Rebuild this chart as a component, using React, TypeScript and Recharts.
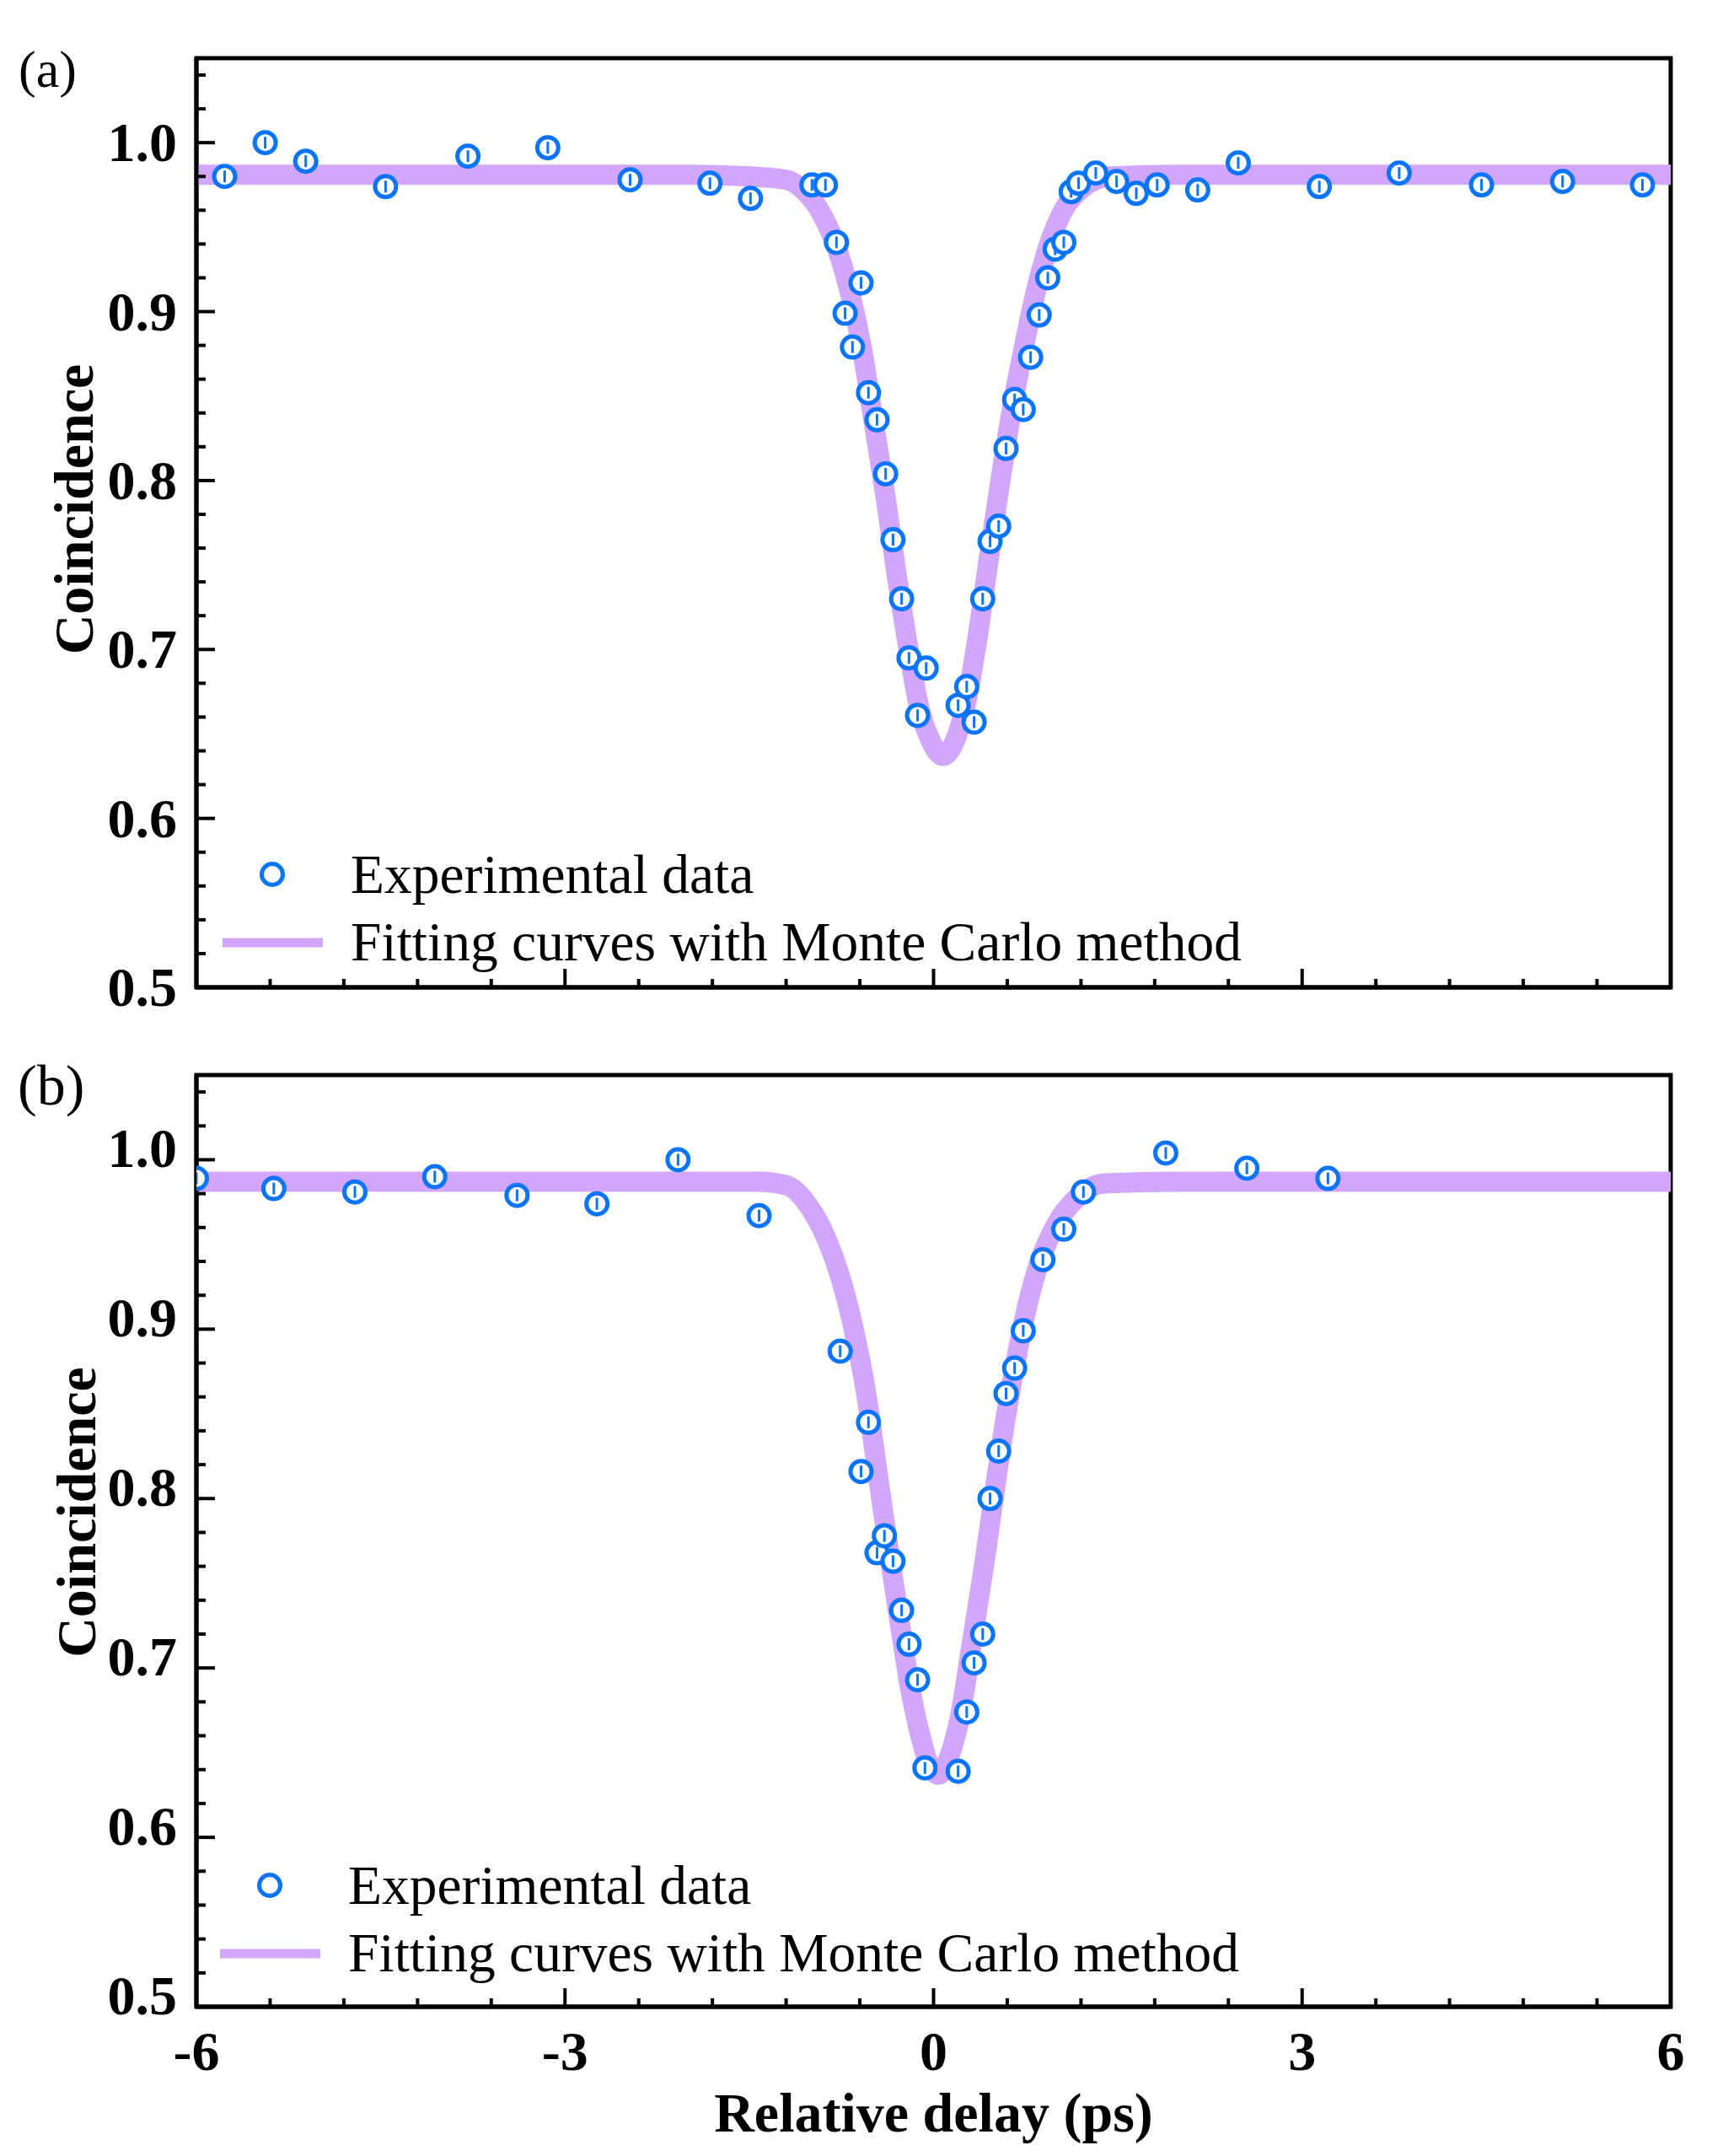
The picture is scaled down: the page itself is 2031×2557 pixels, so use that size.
import React from 'react';
import { ComposedChart, Line, Scatter, XAxis, YAxis, ReferenceArea, Legend, Label } from 'recharts';

const FONT = '"Liberation Serif", "Times New Roman", Times, serif';
const BLUE = '#0A74FF';
const PURPLE = '#D2A6FB';

// ---- ticks ----
const xTicks = [-6, -5.4, -4.8, -4.2, -3.6, -3, -2.4, -1.8, -1.2, -0.6, 0, 0.6, 1.2, 1.8, 2.4, 3, 3.6, 4.2, 4.8, 5.4, 6];
const xMajorTicks = [-6, -3, 0, 3, 6];
const xTickLabels = ['-6', '-3', '0', '3', '6'];
const yTicks = [0.5, 0.52, 0.54, 0.56, 0.58, 0.6, 0.62, 0.64, 0.66, 0.68, 0.7, 0.72, 0.74, 0.76, 0.78, 0.8, 0.82, 0.84, 0.86, 0.88, 0.9, 0.92, 0.94, 0.96, 0.98, 1.0, 1.02, 1.04];
const yMajorTicks = [0.5, 0.6, 0.7, 0.8, 0.9, 1.0];
const yTickLabels = ['0.5', '0.6', '0.7', '0.8', '0.9', '1.0'];

// ---- panel (a) experimental data ----
const aX = [-5.77, -5.44, -5.11, -4.46, -3.79, -3.14, -2.47, -1.82, -1.49, -0.99, -0.88, -0.79, -0.72, -0.66, -0.59, -0.53, -0.46, -0.39, -0.33, -0.26, -0.2, -0.13, -0.06, 0.2, 0.27, 0.33, 0.4, 0.46, 0.53, 0.59, 0.66, 0.73, 0.79, 0.86, 0.93, 0.99, 1.06, 1.12, 1.18, 1.32, 1.49, 1.65, 1.82, 2.15, 2.48, 3.14, 3.79, 4.46, 5.12, 5.77];
const aY = [0.98, 1.0, 0.989, 0.974, 0.992, 0.997, 0.978, 0.976, 0.967, 0.975, 0.975, 0.941, 0.899, 0.879, 0.917, 0.852, 0.836, 0.804, 0.765, 0.73, 0.695, 0.661, 0.689, 0.667, 0.678, 0.657, 0.73, 0.764, 0.773, 0.819, 0.848, 0.842, 0.873, 0.898, 0.92, 0.937, 0.941, 0.971, 0.976, 0.982, 0.977, 0.97, 0.975, 0.972, 0.988, 0.974, 0.982, 0.975, 0.977, 0.975];

// ---- panel (a) fitting curve ----
const fitAX = [-6, -2, -1.5, -1.2, -1.06, -0.92, -0.78, -0.67, -0.58, -0.49, -0.39, -0.3, -0.21, -0.12, -0.03, 0.075, 0.18, 0.27, 0.36, 0.45, 0.54, 0.635, 0.73, 0.82, 0.91, 1.05, 1.21, 1.44, 2.0, 6];
const fitAY = [0.981, 0.981, 0.98, 0.978, 0.972, 0.959, 0.936, 0.908, 0.877, 0.836, 0.79, 0.744, 0.703, 0.667, 0.647, 0.637, 0.647, 0.67, 0.708, 0.754, 0.798, 0.841, 0.877, 0.908, 0.933, 0.959, 0.973, 0.98, 0.981, 0.981];

// ---- panel (b) experimental data ----
const bX = [-6.0, -5.37, -4.71, -4.06, -3.39, -2.74, -2.08, -1.42, -0.76, -0.59, -0.53, -0.46, -0.4, -0.33, -0.26, -0.2, -0.13, -0.07, 0.2, 0.27, 0.33, 0.4, 0.46, 0.53, 0.59, 0.66, 0.73, 0.89, 1.06, 1.22, 1.89, 2.55, 3.21];
const bY = [0.989, 0.983, 0.981, 0.99, 0.979, 0.974, 1.0, 0.967, 0.887, 0.816, 0.845, 0.768, 0.778, 0.763, 0.734, 0.714, 0.693, 0.641, 0.639, 0.674, 0.703, 0.72, 0.8, 0.828, 0.862, 0.877, 0.899, 0.941, 0.959, 0.981, 1.004, 0.995, 0.989];

// ---- panel (b) fitting curve ----
const fitBX = [-6, -1.42, -1.2, -1.01, -0.875, -0.76, -0.65, -0.555, -0.463, -0.372, -0.28, -0.19, -0.1, -0.03, 0.04, 0.13, 0.22, 0.31, 0.41, 0.5, 0.59, 0.68, 0.77, 0.86, 1.0, 1.16, 1.39, 2.0, 6];
const fitBY = [0.987, 0.987, 0.985, 0.972, 0.954, 0.931, 0.9, 0.865, 0.819, 0.773, 0.729, 0.688, 0.658, 0.642, 0.637, 0.648, 0.673, 0.714, 0.76, 0.806, 0.849, 0.885, 0.916, 0.939, 0.962, 0.977, 0.986, 0.987, 0.987];

const legendLabels = ['Experimental data', 'Fitting curves with Monte Carlo method'];

const toPts = (xs: number[], ys: number[]) => xs.map((x, i) => ({ x, y: ys[i] }));

const makeXTick = (showLabels: boolean) => (props: any) => {
  const { x, y, payload } = props;
  const v = payload.value;
  const mi = xMajorTicks.findIndex((m) => Math.abs(m - v) < 1e-6);
  const major = mi >= 0;
  return (
    <g>
      <line x1={x} x2={x} y1={y} y2={y - (major ? 22 : 10)} stroke="#000" strokeWidth={4} />
      {showLabels && major && (
        <text x={x} y={y + 75} textAnchor="middle" fontFamily={FONT} fontWeight="bold" fontSize={66} fill="#000">
          {xTickLabels[mi]}
        </text>
      )}
    </g>
  );
};

const makeYTick = (labelDy: number) => (props: any) => {
  const { x, y, payload } = props;
  const v = payload.value;
  const mi = yMajorTicks.findIndex((m) => Math.abs(m - v) < 1e-6);
  const major = mi >= 0;
  return (
    <g>
      <line x1={x} x2={x + (major ? 22 : 11)} y1={y} y2={y} stroke="#000" strokeWidth={4} />
      {major && (
        <text x={x - 23} y={y + labelDy} textAnchor="end" fontFamily={FONT} fontWeight="bold" fontSize={66} fill="#000">
          {yTickLabels[mi]}
        </text>
      )}
    </g>
  );
};

const Marker = (props: any) => {
  const { cx, cy } = props;
  if (cx == null || cy == null) return null;
  return (
    <g>
      <circle cx={cx} cy={cy} r={12.5} fill="#fff" stroke={BLUE} strokeWidth={5} />
      <line x1={cx} x2={cx} y1={cy - 7} y2={cy + 7} stroke={BLUE} strokeWidth={3} />
    </g>
  );
};

const makeLegend = (dx: number, dy: number) => () => (
  <svg width={1300} height={200} style={{ display: 'block', overflow: 'visible' }}>
    <circle cx={83 + dx} cy={57 + dy} r={12.5} fill="#fff" stroke={BLUE} strokeWidth={5} />
    <text x={176 + dx} y={79 + dy} fontFamily={FONT} fontSize={65.5} fill="#000">
      {legendLabels[0]}
    </text>
    <line x1={24 + dx} x2={143 + dx} y1={138 + dy} y2={138 + dy} stroke={PURPLE} strokeWidth={11} />
    <text x={176 + dx} y={159 + dy} fontFamily={FONT} fontSize={65.5} fill="#000">
      {legendLabels[1]}
    </text>
  </svg>
);

const makeYTitle = (bx: number, off: number) => (props: any) => {
  const vb = props.viewBox || { x: 0, y: 0, width: 0, height: 0 };
  const cy = vb.y + vb.height / 2 + off;
  return (
    <text
      transform={`translate(${bx}, ${cy}) rotate(-90)`}
      textAnchor="middle"
      fontFamily={FONT}
      fontWeight="bold"
      fontSize={66}
      fill="#000"
    >
      Coincidence
    </text>
  );
};

const XTitle = (props: any) => {
  const vb = props.viewBox || { x: 0, y: 0, width: 0, height: 0 };
  return (
    <text x={vb.x + vb.width / 2} y={vb.y + 148} textAnchor="middle" fontFamily={FONT} fontWeight="bold" fontSize={66} fill="#000">
      Relative delay (ps)
    </text>
  );
};

type PanelProps = {
  pts: { x: number; y: number }[];
  fit: { x: number; y: number }[];
  height: number;
  top: number;
  xAxisHeight: number;
  showXLabels: boolean;
  yLabelDy: number;
  yTitleX: number;
  yTitleOff: number;
  legendLeft: number;
  legendTop: number;
  legendDx: number;
};

const Panel = (p: PanelProps) => (
  <ComposedChart width={2031} height={p.height} margin={{ top: p.top, right: 49, bottom: 0, left: 0 }}>
    <XAxis
      dataKey="x"
      type="number"
      domain={[-6, 6]}
      ticks={xTicks}
      interval={0}
      allowDataOverflow
      height={p.xAxisHeight}
      tickSize={0}
      tickMargin={0}
      tickLine={false}
      axisLine={{ stroke: '#000', strokeWidth: 5 }}
      tick={makeXTick(p.showXLabels)}
    >
      {p.showXLabels && <Label content={XTitle} />}
    </XAxis>
    <YAxis
      dataKey="y"
      type="number"
      domain={[0.5, 1.05]}
      ticks={yTicks}
      interval={0}
      allowDataOverflow
      width={233}
      tickSize={0}
      tickMargin={0}
      tickLine={false}
      axisLine={{ stroke: '#000', strokeWidth: 5 }}
      tick={makeYTick(p.yLabelDy)}
    >
      <Label content={makeYTitle(p.yTitleX, p.yTitleOff)} />
    </YAxis>
    <ReferenceArea x1={-6} x2={6} y1={0.5} y2={1.05} fill="none" stroke="#000" strokeWidth={5} ifOverflow="visible" />
    <Line
      data={p.fit}
      dataKey="y"
      name={legendLabels[1]}
      type="monotone"
      stroke={PURPLE}
      strokeWidth={24}
      dot={false}
      activeDot={false}
      isAnimationActive={false}
    />
    <Scatter data={p.pts} dataKey="y" name={legendLabels[0]} shape={Marker} isAnimationActive={false} />
    <Legend
      layout="vertical"
      align="center"
      verticalAlign="middle"
      content={makeLegend(p.legendDx, 0)}
      wrapperStyle={{ left: p.legendLeft, top: p.legendTop, width: 1300, height: 200, right: 'auto', bottom: 'auto' }}
    />
  </ComposedChart>
);

export default function App() {
  return (
    <div style={{ position: 'absolute', left: 0, top: 0, width: 2031, height: 2557, background: '#fff', overflow: 'hidden' }}>
      <div style={{ position: 'absolute', left: 0, top: 0 }}>
        <Panel
          pts={toPts(aX, aY)}
          fit={toPts(fitAX, fitAY)}
          height={1220}
          top={69}
          xAxisHeight={49}
          showXLabels={false}
          yLabelDy={22}
          yTitleX={110}
          yTitleOff={-16}
          legendLeft={240}
          legendTop={980}
          legendDx={0}
        />
      </div>
      <div style={{ position: 'absolute', left: 0, top: 1220 }}>
        <Panel
          pts={toPts(bX, bY)}
          fit={toPts(fitBX, fitBY)}
          height={1337}
          top={55}
          xAxisHeight={177}
          showXLabels={true}
          yLabelDy={9}
          yTitleX={113}
          yTitleOff={-34}
          legendLeft={237}
          legendTop={959}
          legendDx={0}
        />
      </div>
      <svg width={2031} height={2557} style={{ position: 'absolute', left: 0, top: 0, pointerEvents: 'none' }}>
        <text x={22} y={103} fontFamily={FONT} fontSize={62} fill="#000">(a)</text>
        <text x={21} y={1310} fontFamily={FONT} fontSize={68} fill="#000">(b)</text>
      </svg>
    </div>
  );
}
